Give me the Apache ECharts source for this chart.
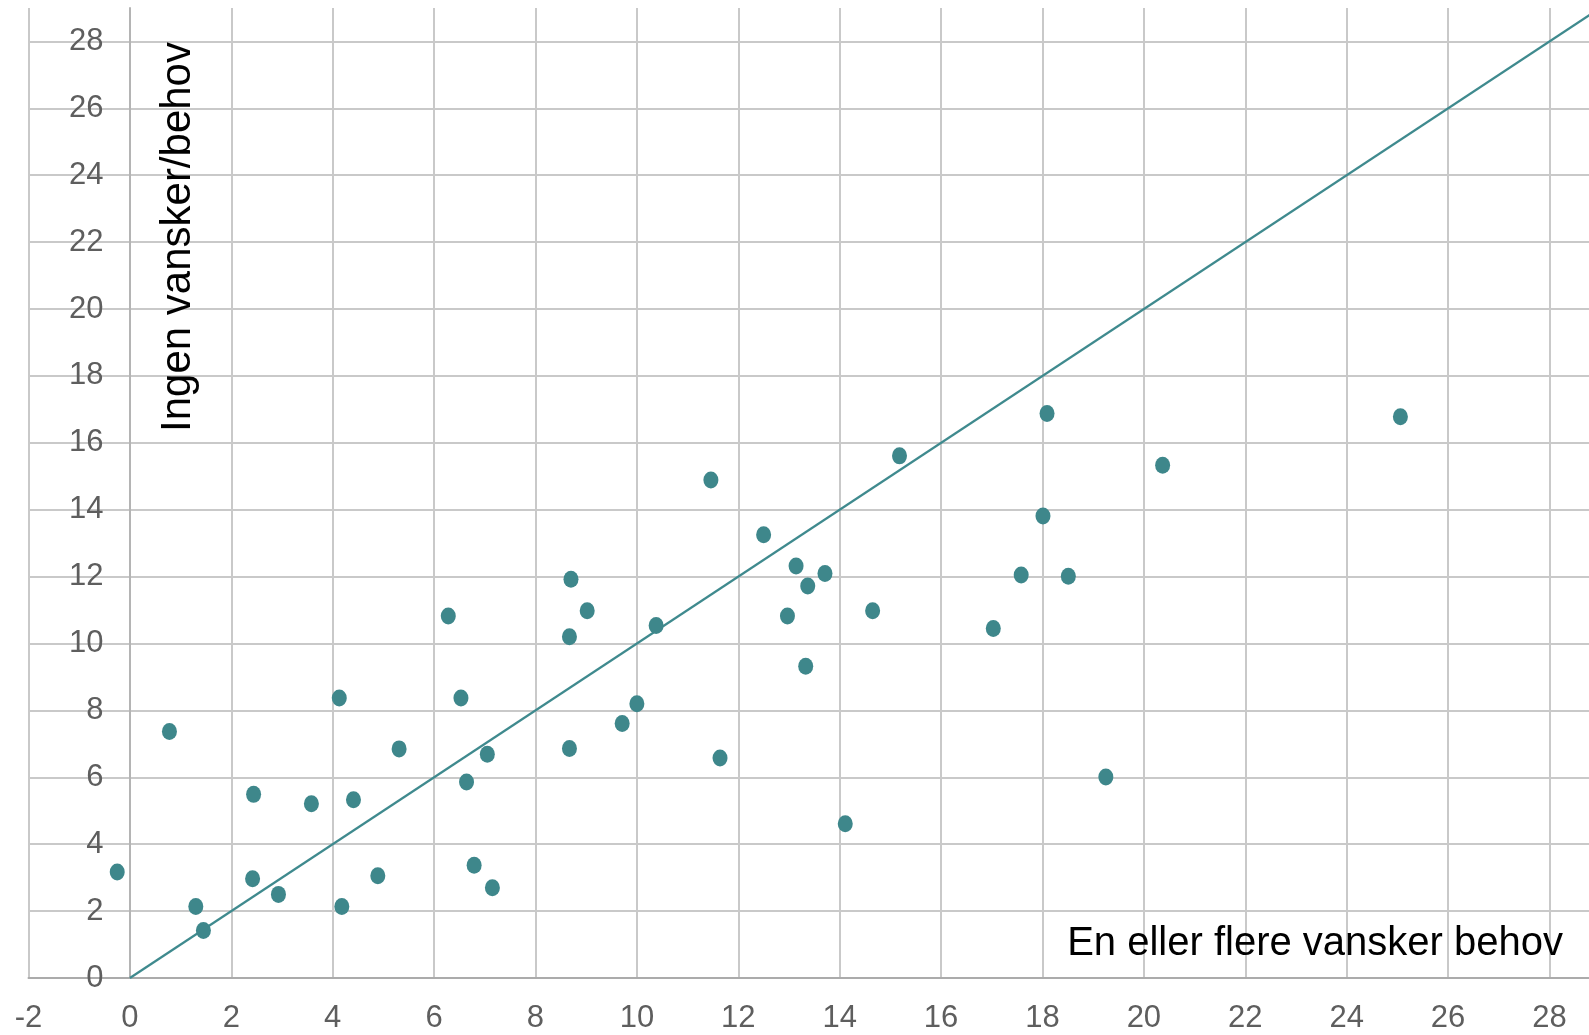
<!DOCTYPE html>
<html>
<head>
<meta charset="utf-8">
<script src="https://cdn.jsdelivr.net/npm/echarts@6/dist/echarts.min.js"></script>
<style>
html,body{margin:0;padding:0;background:#fff;}
#chart{width:1589px;height:1035px;}
</style>
</head>
<body>
<div id="chart"></div>
<script>
// Data
var xValues = [-0.25, 0.78, 1.30, 1.45, 2.44, 2.42, 2.93, 3.58, 4.13, 4.18, 4.41, 4.89, 5.31,
  6.28, 6.53, 6.64, 6.79, 7.05, 7.15, 8.70, 8.67, 8.67, 9.02, 9.71, 10.00, 10.38, 11.46,
  11.64, 12.50, 12.97, 13.14, 13.37, 13.33, 13.71, 14.11, 14.65, 15.18, 17.03, 17.58,
  18.01, 18.09, 18.51, 19.25, 20.37, 25.06];
var yValues = [3.17, 7.37, 2.14, 1.42, 5.49, 2.97, 2.50, 5.21, 8.37, 2.14, 5.33, 3.06, 6.85,
  10.82, 8.37, 5.86, 3.37, 6.69, 2.70, 11.92, 10.20, 6.86, 10.98, 7.61, 8.20, 10.54, 14.89,
  6.58, 13.25, 10.82, 12.32, 11.72, 9.32, 12.09, 4.61, 10.98, 15.61, 10.45, 12.05,
  13.81, 16.88, 12.01, 6.01, 15.33, 16.78];
var diagonal = [[0, 0], [30, 30]];
var xTitle = 'En eller flere vansker behov';
var yTitle = 'Ingen vansker/behov';

var points = xValues.map(function (x, i) { return [x, yValues[i]]; });

var FONT = "'Liberation Sans', Arial, sans-serif";
var teal = '#3e878b';
function evenLabel(v) {
  var r = Math.round(v);
  return (Math.abs(v - r) < 1e-6 && r % 2 === 0) ? String(r) : '';
}

var chart = echarts.init(document.getElementById('chart'), null, {renderer: 'canvas'});
chart.setOption({
  backgroundColor: '#ffffff',
  animation: false,
  grid: {left: 28.5, right: 0, top: 8, bottom: 57, containLabel: false},
  xAxis: {
    type: 'value', min: -2, max: 28.78, interval: 2,
    axisLine: {show: true, lineStyle: {color: '#ababab', width: 2}},
    axisTick: {show: false},
    axisLabel: {color: '#5e5e5e', fontSize: 31, fontFamily: FONT, margin: 25, showMaxLabel: false, formatter: evenLabel},
    splitLine: {show: true, showMaxLine: false, lineStyle: {color: '#c9c9c9', width: 2}}
  },
  yAxis: {
    type: 'value', min: 0, max: 29, interval: 2,
    axisLine: {show: true, lineStyle: {color: '#b4b4b4', width: 2}},
    axisTick: {show: false},
    axisLabel: {color: '#5e5e5e', fontSize: 31, fontFamily: FONT, margin: -75, showMaxLabel: false, formatter: evenLabel},
    splitLine: {show: true, showMaxLine: false, lineStyle: {color: '#c9c9c9', width: 2}}
  },
  graphic: [
    {
      type: 'text', x: 1563, y: 944, z: 10, silent: true,
      style: {text: xTitle, fill: '#000', font: '40px ' + FONT, align: 'right', verticalAlign: 'middle'}
    },
    {
      type: 'text', x: 178, y: 237, rotation: Math.PI / 2, z: 10, silent: true,
      style: {text: yTitle, fill: '#000', font: '42px ' + FONT, align: 'center', verticalAlign: 'middle'}
    }
  ],
  series: [
    {
      type: 'line', data: diagonal, showSymbol: false, symbol: 'none', clip: true,
      lineStyle: {color: '#3f8a8e', width: 2.2}, z: 2, silent: true
    },
    {
      type: 'scatter', data: points, symbol: 'circle', symbolSize: [15, 17],
      itemStyle: {color: teal, opacity: 1}, z: 3
    }
  ]
});
</script>
</body>
</html>
